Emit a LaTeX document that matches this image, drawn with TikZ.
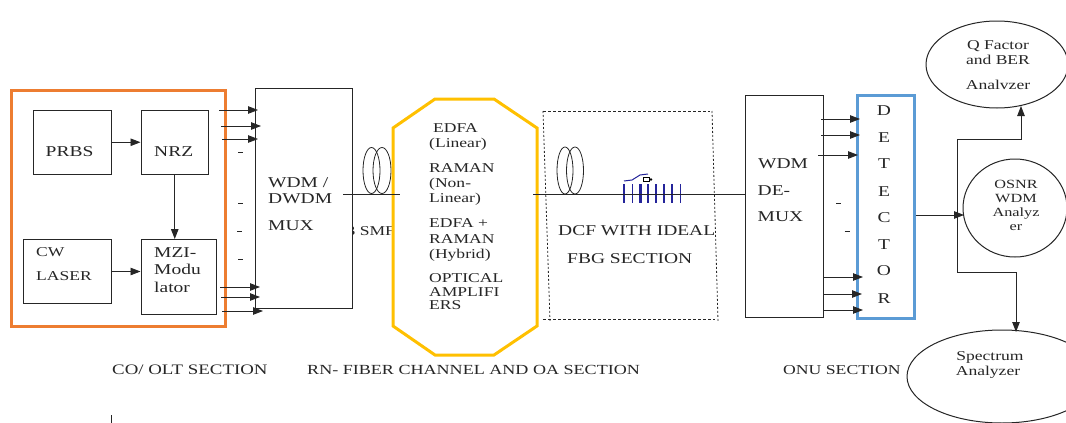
\documentclass[tikz,border=0pt]{standalone}
\usepackage{fontspec}
\setmainfont[FakeStretch=1.3]{Liberation Serif}
\usetikzlibrary{arrows.meta,shapes.geometric}
\definecolor{ink}{HTML}{262626}
\definecolor{orangebox}{HTML}{ED7D31}
\definecolor{goldbox}{HTML}{FFC000}
\definecolor{bluebox}{HTML}{5B9BD5}
\definecolor{fbgblue}{HTML}{24249A}
\tikzset{
  boxx/.style={draw=ink,line width=1pt,fill=white,inner sep=0pt,minimum width=#1},
  boxx/.default=50pt,
  lab/.style={anchor=base west,inner sep=0pt,text=ink,font=\fontsize{15}{18}\selectfont},
  labs/.style={anchor=base west,inner sep=0pt,text=ink,font=\fontsize{13.5}{16}\selectfont},
  labc/.style={anchor=base,inner sep=0pt,text=ink,font=\fontsize{13.5}{16}\selectfont},
  labo/.style={anchor=base,inner sep=0pt,text=ink,font=\fontsize{12.5}{15}\selectfont},
  wire/.style={draw=ink,line width=0.9pt},
  arrow/.style={wire,-{Triangle[length=10pt,width=7.5pt]}},
  tick/.style={draw=ink,line width=0.8pt},
  coilshape/.style={draw=ink,line width=0.8pt,ellipse,inner sep=0pt,minimum width=17pt,minimum height=46pt},
  analyser/.style={draw=ink,line width=1pt,ellipse,inner sep=0pt,fill=white},
  fbgbar/.style={draw=fbgblue,line width=1.2pt},
}
\begin{document}
\begin{tikzpicture}[x=1pt,y=-1pt]
\useasboundingbox (0,0) rectangle (1066,423);
% text that is overdrawn by the neighbouring shapes
\node[labs] (smf) at (346.5,235) {3 SMF};

% CO / OLT section
\draw[orangebox,line width=3pt] (11,90) rectangle (225,326);
\node[boxx=78pt,minimum height=64.5pt] (prbs) at (72,142.25) {};
\node[boxx=67.5pt,minimum height=64.5pt] (nrz) at (174.75,142.25) {};
\node[boxx=87.5pt,minimum height=64pt] (cw) at (67.25,271.5) {};
\node[boxx=75pt,minimum height=74.5pt] (mzi) at (178.5,276.75) {};
\node[lab] (tprbs) at (45.5,156) {PRBS};
\node[lab] (tnrz) at (154,156) {NRZ};
\node[labs] (tcw) at (36,256) {CW};
\node[labs] (tlaser) at (36,280) {LASER};
\node[lab] (tmzi1) at (154,257) {MZI-};
\node[lab] (tmzi2) at (154,274) {Modu};
\node[lab] (tmzi3) at (154,292) {lator};
\draw[arrow] (prbs.east) -- (nrz.west);
\draw[arrow,line width=1.2pt] (nrz.south) -- (nrz.south |- mzi.north);
\draw[arrow] (cw.east) -- (cw.east -| mzi.west);

% MUX
\node[boxx=97pt,minimum height=220pt] (mux) at (303.5,198) {};
\node[lab] (tm1) at (268,187) {WDM /};
\node[lab] (tm2) at (268,203) {DWDM};
\node[lab] (tm3) at (268,230) {MUX};
\coordinate (ma1) at (219,110); \coordinate (mb1) at (258,110);
\coordinate (ma2) at (221,126); \coordinate (mb2) at (261,126);
\coordinate (ma3) at (222,139); \coordinate (mb3) at (258,139);
\coordinate (ma4) at (220,287); \coordinate (mb4) at (260,287);
\coordinate (ma5) at (221,297); \coordinate (mb5) at (260,297);
\coordinate (ma6) at (222,311); \coordinate (mb6) at (263,311);
\foreach \i in {1,...,6} {\draw[arrow] (ma\i) -- (mb\i);}
\foreach \y/\xa in {152/238,203/238,231/237,259/238} {\draw[tick] (\xa,\y) -- +(5,0);}

% SMF coil and amplifier section
\node[coilshape] (coil1) at (371.5,170.5) {};
\node[coilshape,minimum width=18pt] (coil2) at (382,170.5) {};
\fill[white,draw=goldbox,line width=3pt]
  (393,128) -- (435,99) -- (494,99) -- (537,128) -- (537,326) -- (494,355) -- (435,355) -- (393,326) -- cycle;
\coordinate (f1a) at (343,194); \coordinate (f1b) at (400,194);
\draw[wire] (f1a) -- (f1b);
\node[labs] (a1) at (433,132) {EDFA};
\node[labs] (a2) at (429,147) {(Linear)};
\node[labs] (a3) at (429,172) {RAMAN};
\node[labs] (a4) at (429,187) {(Non-};
\node[labs] (a5) at (429,202) {Linear)};
\node[labs] (a6) at (429,227) {EDFA +};
\node[labs] (a7) at (429,243) {RAMAN};
\node[labs] (a8) at (429,258) {(Hybrid)};
\node[labs] (a9) at (429,282) {OPTICAL};
\node[labs] (a10) at (429,296) {AMPLIFI};
\node[labs] (a11) at (429,309) {ERS};

% DCF / FBG section
\draw[ink,line width=0.8pt,dash pattern=on 3pt off 2pt] (543,111) -- (710,111) (543,319) -- (715,319);
\draw[ink,line width=0.8pt,dash pattern=on 2pt off 2pt] (543,111) -- (550,321) (712,111) -- (718,321);
\node[coilshape,minimum width=16pt,minimum height=47pt] (coil3) at (565,170.5) {};
\node[coilshape,minimum width=17pt,minimum height=47pt] (coil4) at (575,170.5) {};
\foreach \x in {624,632.7,648,656,672,680.7} {\draw[fbgbar] (\x,184) -- (\x,203);}
\foreach \x in {640.5,664} {\draw[fbgbar,line width=2.6pt] (\x,184) -- (\x,203);}
\draw[draw=fbgblue,line width=1pt] (624,181) -- (632,180) -- (640,175) -- (648,174);
\draw[black,line width=1pt] (643.5,177) rectangle (649,181.5);
\fill[black] (651,179.5) circle (1.4);
\node[lab] (d1) at (558,235) {DCF WITH IDEAL};
\node[lab] (d2) at (567,263) {FBG SECTION};

% DEMUX and detector
\node[boxx=78pt,minimum height=222pt] (demux) at (784,206.75) {};
\coordinate (f2a) at (533,194);
\draw[wire] (f2a) -- (f2a -| demux.west);
\node[lab] (tdm1) at (758,168) {WDM};
\node[lab] (tdm2) at (757.5,195) {DE-};
\node[lab] (tdm3) at (757.5,221) {MUX};
\node[draw=bluebox,line width=3pt,inner sep=0pt,minimum width=57pt,minimum height=222.5pt] (det) at (885.5,206.75) {};
\foreach \y/\t/\n in {115/D/1,142/E/2,168/T/3,196/E/4,222/C/5,249/T/6,275/O/7,303/R/8}
  {\node[lab,anchor=base] (dl\n) at (884,\y) {\t};}
\coordinate (da1) at (821,119); \coordinate (db1) at (860,119);
\coordinate (da2) at (821,135); \coordinate (db2) at (860,135);
\coordinate (da3) at (818,155); \coordinate (db3) at (858,155);
\coordinate (da4) at (823,277); \coordinate (db4) at (863,277);
\coordinate (da5) at (823,294); \coordinate (db5) at (862,294);
\coordinate (da6) at (823,310); \coordinate (db6) at (863,310);
\foreach \i in {1,...,6} {\draw[arrow] (da\i) -- (db\i);}
\draw[tick] (836,203) -- +(5,0);
\draw[tick] (844.5,231) -- +(5,0);

% analysers
\node[analyser,minimum width=142pt,minimum height=87pt] (q) at (997,64.5) {};
\node[labc] (q1) at (998,49) {Q Factor};
\node[labc] (q2) at (998,64) {and BER};
\node[labc] (q3) at (998,89) {Analvzer};
\node[analyser,minimum width=104pt,minimum height=98pt] (os) at (1015,208) {};
\node[labo] (o1) at (1016,188) {OSNR};
\node[labo] (o2) at (1016,202) {WDM};
\node[labo] (o3) at (1016,216) {Analyz};
\node[labo] (o4) at (1016,230) {er};
\node[analyser,minimum width=190pt,minimum height=93pt] (sp) at (1002,376.5) {};
\node[labc] (s1) at (990,360) {Spectrum};
\node[labc] (s2) at (988,375) {Analyzer};
\coordinate (busT) at (957,139);
\coordinate (busB) at (957,272);
\coordinate (qin) at (1021,106);
\coordinate (spin) at (1016,332);
\coordinate (detout) at (964,215);
\draw[arrow] (det.east |- detout) -- (detout);
\draw[wire] (busT) -- (busB);
\draw[arrow] (busT) -- (busT -| qin) -- (qin);
\draw[arrow] (busB) -- (busB -| spin) -- (spin);

% section captions
\node[lab,font=\fontsize{14.5}{17}\selectfont] (c1) at (112,374) {CO/ OLT SECTION};
\node[lab,font=\fontsize{13.9}{17}\selectfont] (c2) at (307,374) {RN- FIBER CHANNEL AND OA SECTION};
\node[lab,font=\fontsize{13.6}{17}\selectfont] (c3) at (783,374) {ONU SECTION};
\draw[tick] (111,415) -- (111,423);
\end{tikzpicture}
\end{document}
